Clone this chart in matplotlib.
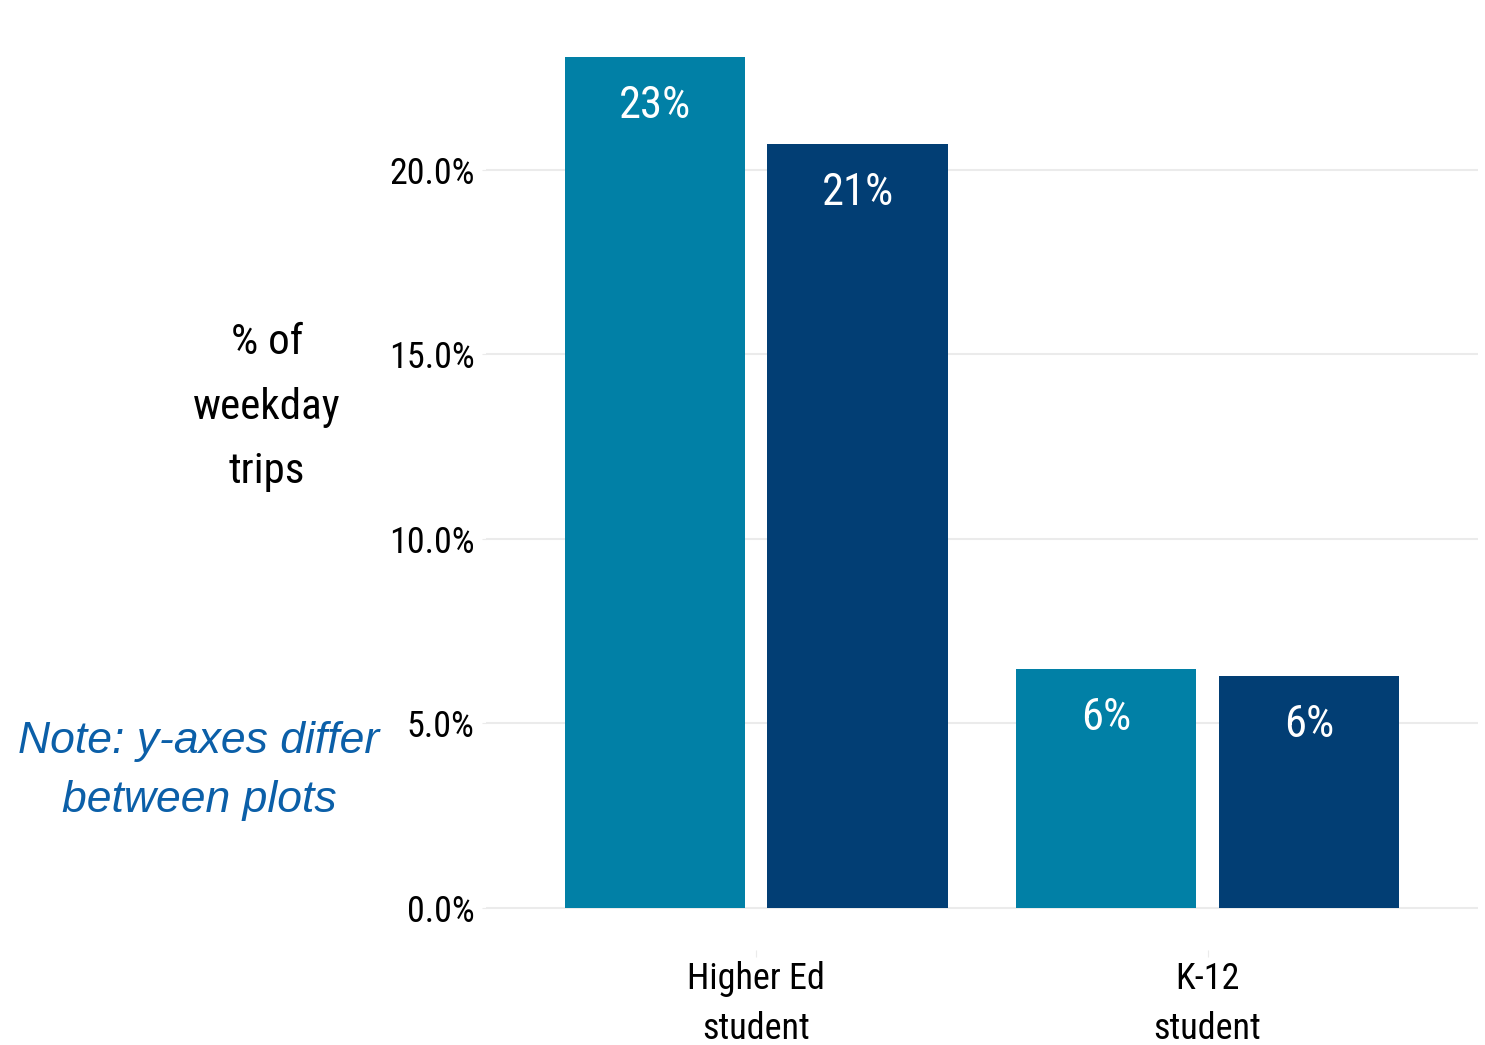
import matplotlib
matplotlib.use("Agg")
import matplotlib.pyplot as plt
import numpy as np

categories = ["Higher Ed\nstudent", "K-12\nstudent"]
series_a = [23.06, 6.48]
series_b = [20.70, 6.29]
a_labels = ["23%", "6%"]
b_labels = ["21%", "6%"]
ytick_vals = [0, 5, 10, 15, 20]
ytick_labels = ["0.0%", "5.0%", "10.0%", "15.0%", "20.0%"]

narrow = ["Roboto Condensed", "Liberation Sans", "DejaVu Sans"]

col_a = "#0180A6"
col_b = "#023E74"
grid_col = "#EBEBEB"

fig = plt.figure(figsize=(14.85, 10.45), dpi=100)
ax = fig.add_axes([0.3271, 0.0909, 0.9954 - 0.3271, 0.9856 - 0.0909])

x = np.arange(len(categories))
off = 0.2245
w = 0.40
bars_a = ax.bar(x - off, series_a, width=w, color=col_a, zorder=2)
bars_b = ax.bar(x + off, series_b, width=w, color=col_b, zorder=2)

for bars, labs in ((bars_a, a_labels), (bars_b, b_labels)):
    for b, lab in zip(bars, labs):
        ax.annotate(lab, (b.get_x() + b.get_width() / 2, b.get_height()),
                    xytext=(0, -35.5), textcoords="offset points",
                    ha="center", va="center", color="white",
                    fontsize=32, family=narrow)

ax.set_xlim(-0.6, 1.6)
ax.set_ylim(-1.15, 24.2)
ax.set_yticks(ytick_vals)
ax.set_yticklabels(ytick_labels, family=narrow, fontsize=26)
ax.set_xticks(x)
ax.set_xticklabels(categories, family=narrow, fontsize=26, linespacing=1.48)
ax.tick_params(axis="y", length=3, color=grid_col, pad=5)
ax.tick_params(axis="x", length=5, color=grid_col, pad=3)
ax.yaxis.grid(True, color=grid_col, linewidth=1.5, zorder=0)
ax.xaxis.grid(False)
ax.set_axisbelow(True)
for s in ax.spines.values():
    s.set_visible(False)

fig.text(267 / 1485, 1 - 407 / 1045, "% of\nweekday\ntrips", ha="center", va="center",
         multialignment="center", fontsize=31, family=narrow, linespacing=1.72)

fig.text(199 / 1485, 1 - 771 / 1045, "Note: y-axes differ\nbetween plots", ha="center",
         va="center", multialignment="center", fontsize=32, family="Liberation Sans",
         style="italic", color="#0B5FA8", linespacing=1.57)

fig.savefig("out.png", dpi=100)
